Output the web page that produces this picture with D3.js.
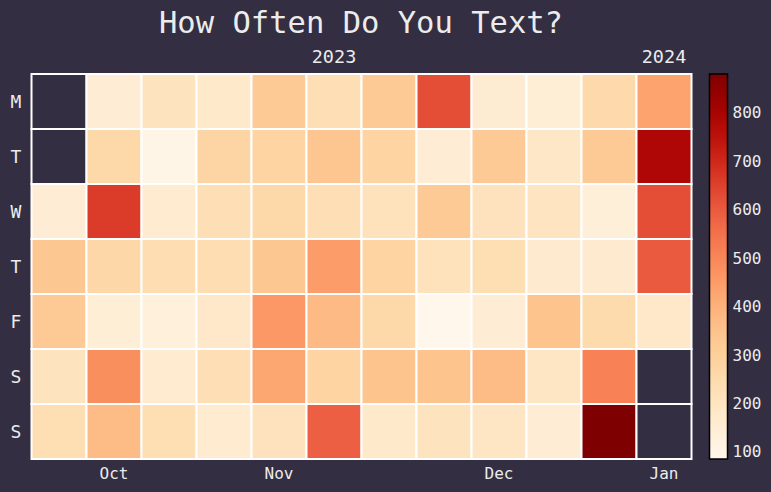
<!DOCTYPE html>
<html><head><meta charset="utf-8">
<script src="https://cdn.jsdelivr.net/npm/d3@7"></script>
<style>
html,body{margin:0;padding:0;background:#332e42;}
svg{display:block;font-family:"DejaVu Sans Mono",monospace;}
</style></head>
<body><svg id="c" width="771" height="492"></svg>
<script>
const days = ["M","T","W","T","F","S","S"];
// one array per week (column), Monday..Sunday; null = no data
const week00 = [null,null,150,335,320,205,235];
const week01 = [150,260,660,265,145,480,370];
const week02 = [205,100,160,240,130,160,235];
const week03 = [175,275,230,240,180,230,160];
const week04 = [325,280,260,335,460,425,210];
const week05 = [230,340,230,450,375,280,590];
const week06 = [320,280,215,280,260,345,175];
const week07 = [625,150,320,215,85,345,205];
const week08 = [155,320,210,235,150,370,190];
const week09 = [145,185,200,165,345,195,150];
const week10 = [255,320,140,165,250,510,880];
const week11 = [435,785,625,600,180,null,null];
const weeks = [week00,week01,week02,week03,week04,week05,week06,week07,week08,week09,week10,week11];
const monthLabels = ["Oct","Nov","Dec","Jan"];
const monthWeeks = [1,4,8,11];
const yearLabels = ["2023","2024"];
const yearWeeks = [5,11];
const colorTicks = [100,200,300,400,500,600,700,800];
const vmin = 85, vmax = 880;

const bg = "#332e42", fg = "#ececec";
const svg = d3.select("#c");

const x = d3.scaleBand().domain(d3.range(weeks.length)).range([31.5, 691.5]).padding(0);
const y = d3.scaleBand().domain(d3.range(7)).range([74, 459]).padding(0);
const color = d3.scaleSequential(d3.interpolateOrRd).domain([vmin, vmax]);

const cells = [];
weeks.forEach((w, wi) => w.forEach((v, di) => cells.push({wi, di, v})));

svg.append("text").attr("x", 361).attr("y", 33).attr("text-anchor", "middle")
  .attr("fill", fg).attr("font-size", 30.5).text("How Often Do You Text?");

svg.append("g").selectAll("rect").data(cells).join("rect")
  .attr("x", d => x(d.wi)).attr("y", d => y(d.di))
  .attr("width", x.bandwidth()).attr("height", y.bandwidth())
  .attr("fill", d => d.v == null ? bg : color(d.v))
  .attr("stroke", "#ffffff").attr("stroke-width", 2);

svg.append("g").selectAll("text").data(days).join("text")
  .attr("x", 16).attr("y", (d, i) => y(i) + y.bandwidth() / 2)
  .attr("dy", "0.38em").attr("text-anchor", "middle")
  .attr("fill", fg).attr("font-size", 18).text(d => d);

svg.append("g").selectAll("text").data(monthLabels).join("text")
  .attr("x", (d, i) => x(monthWeeks[i]) + x.bandwidth() / 2).attr("y", 479)
  .attr("text-anchor", "middle").attr("fill", fg).attr("font-size", 16).text(d => d);

svg.append("g").selectAll("text").data(yearLabels).join("text")
  .attr("x", (d, i) => x(yearWeeks[i]) + x.bandwidth() / 2).attr("y", 63)
  .attr("text-anchor", "middle").attr("fill", fg).attr("font-size", 18.5).text(d => d);

// colorbar
const cb = {x: 709.5, w: 18};
const cy = d3.scaleLinear().domain([vmin, vmax]).range([459, 74]);
const defs = svg.append("defs");
const grad = defs.append("linearGradient").attr("id", "g").attr("x1", 0).attr("y1", 1).attr("x2", 0).attr("y2", 0);
d3.range(0, 1.0001, 0.05).forEach(t => grad.append("stop").attr("offset", t).attr("stop-color", d3.interpolateOrRd(t)));
svg.append("rect").attr("x", cb.x).attr("y", 74).attr("width", cb.w).attr("height", 385)
  .attr("fill", "url(#g)").attr("stroke", "#000").attr("stroke-width", 1.5);
const ax = svg.append("g").attr("transform", `translate(${cb.x + cb.w},0)`)
  .call(d3.axisRight(cy).tickValues(colorTicks).tickSize(0).tickPadding(5));
ax.select(".domain").remove();
ax.selectAll("line").remove();
ax.selectAll("text").attr("fill", fg).attr("font-size", 16).attr("font-family", "DejaVu Sans Mono");
</script></body></html>
